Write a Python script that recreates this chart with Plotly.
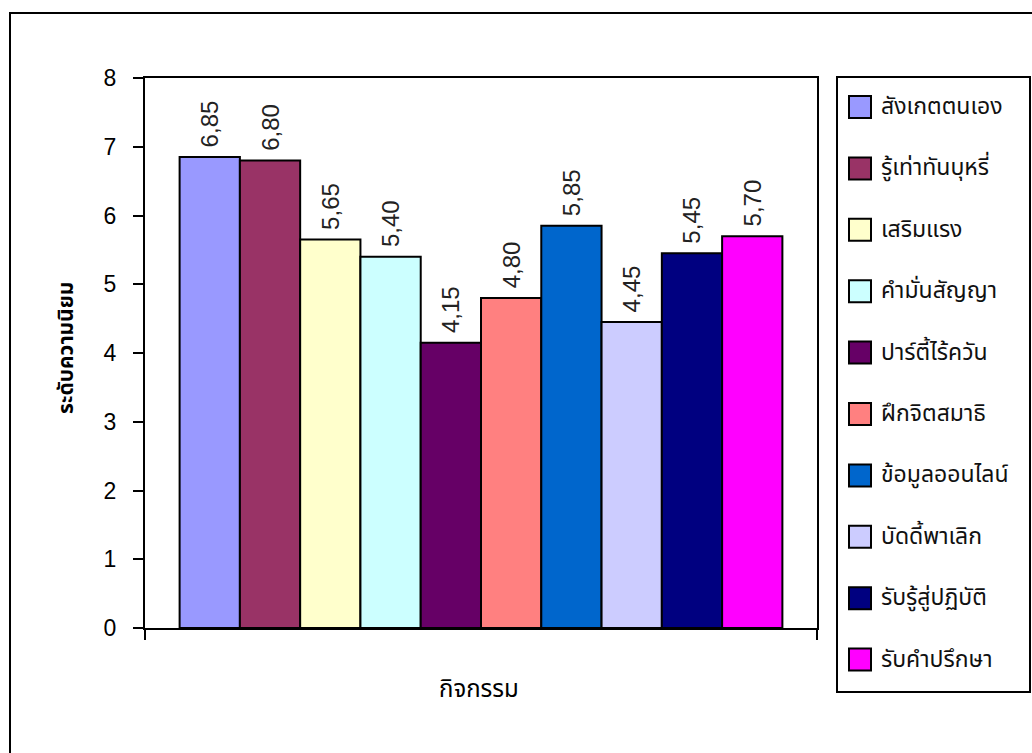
import plotly.graph_objects as go

# ---- data ----
category = ["กิจกรรม"]
series_names = ["สังเกตตนเอง", "รู้เท่าทันบุหรี่", "เสริมแรง", "คำมั่นสัญญา", "ปาร์ตี้ไร้ควัน",
                "ฝึกจิตสมาธิ", "ข้อมูลออนไลน์", "บัดดี้พาเลิก", "รับรู้สู่ปฏิบัติ", "รับคำปรึกษา"]
series_values = [6.85, 6.80, 5.65, 5.40, 4.15, 4.80, 5.85, 4.45, 5.45, 5.70]
series_colors = ["#9999FF", "#993366", "#FFFFCC", "#CCFFFF", "#660066",
                 "#FF8080", "#0066CC", "#CCCCFF", "#000080", "#FF00FF"]
y_ticks = [0, 1, 2, 3, 4, 5, 6, 7, 8]
y_title = "ระดับความนิยม"
x_title = "กิจกรรม"

W, H = 1032, 753
L, R, T, B = 145, 817, 78, 628  # plot area in pixels

def px(x):
    return (x - L) / (R - L)

def py(y):
    return (B - y) / (B - T)

NUM_FONT = "Liberation Sans, Arial, sans-serif"
THAI_FONT = "Tahoma, Noto Sans Thai, Noto Sans, DejaVu Sans, sans-serif"

fig = go.Figure()
for name, val, col in zip(series_names, series_values, series_colors):
    fig.add_trace(go.Bar(
        x=category, y=[val], name=name,
        marker=dict(color=col, line=dict(color="black", width=2)),
        text=["\u00a0" + f"{val:.2f}".replace(".", ",")],
        textposition="outside", textangle=-90,
        textfont=dict(family=NUM_FONT, size=24, color="#222222"),
        cliponaxis=False, showlegend=False,
    ))

shapes = []
annotations = []

# outer chart border
shapes.append(dict(type="rect", xref="paper", yref="paper",
                   x0=px(10), x1=px(W + 20), y0=py(H + 20), y1=py(13),
                   line=dict(color="black", width=2), fillcolor="rgba(0,0,0,0)", layer="below"))

# legend box
LX0, LX1, LY0, LY1 = 837, 1030, 77, 692
shapes.append(dict(type="rect", xref="paper", yref="paper",
                   x0=px(LX0), x1=px(LX1), y0=py(LY1), y1=py(LY0),
                   line=dict(color="black", width=2), fillcolor="white"))
first_c, step = 107, 61.4
for i, (name, col) in enumerate(zip(series_names, series_colors)):
    cy = first_c + i * step
    shapes.append(dict(type="rect", xref="paper", yref="paper",
                       x0=px(849), x1=px(871), y0=py(cy + 11), y1=py(cy - 11),
                       line=dict(color="black", width=2), fillcolor=col))
    annotations.append(dict(text=name, xref="paper", yref="paper",
                            x=px(879), y=py(cy), xanchor="left", yanchor="middle",
                            showarrow=False,
                            font=dict(family=THAI_FONT, size=23, color="#111111")))

# axis titles
annotations.append(dict(text=f"<b>{y_title}</b>", xref="paper", yref="paper",
                        x=px(66), y=py(348), textangle=-90, showarrow=False,
                        xanchor="center", yanchor="middle",
                        font=dict(family=THAI_FONT, size=21, color="black")))
annotations.append(dict(text=x_title, xref="paper", yref="paper",
                        x=px(479), y=py(690), showarrow=False,
                        xanchor="center", yanchor="middle",
                        font=dict(family=THAI_FONT, size=24, color="black")))

fig.update_layout(
    width=W, height=H,
    margin=dict(l=L, r=W - R, t=T, b=H - B, pad=0),
    paper_bgcolor="white", plot_bgcolor="rgba(0,0,0,0)",
    barmode="group", bargap=0.103, bargroupgap=0,
    showlegend=False,
    shapes=shapes, annotations=annotations,
    xaxis=dict(showticklabels=False, ticks="outside", ticklen=10, tickwidth=2,
               tickcolor="black", tickson="boundaries", showline=True, linecolor="black",
               linewidth=2, mirror=True, showgrid=False, zeroline=False, fixedrange=True),
    yaxis=dict(range=[0, 8], tickvals=y_ticks, ticks="outside", ticklen=10, tickwidth=2,
               tickcolor="black", showline=True, linecolor="black", linewidth=2,
               mirror=True, showgrid=False, zeroline=False, ticklabelstandoff=12,
               tickfont=dict(family=NUM_FONT, size=23, color="black")),
)

fig.write_html("out.html")
